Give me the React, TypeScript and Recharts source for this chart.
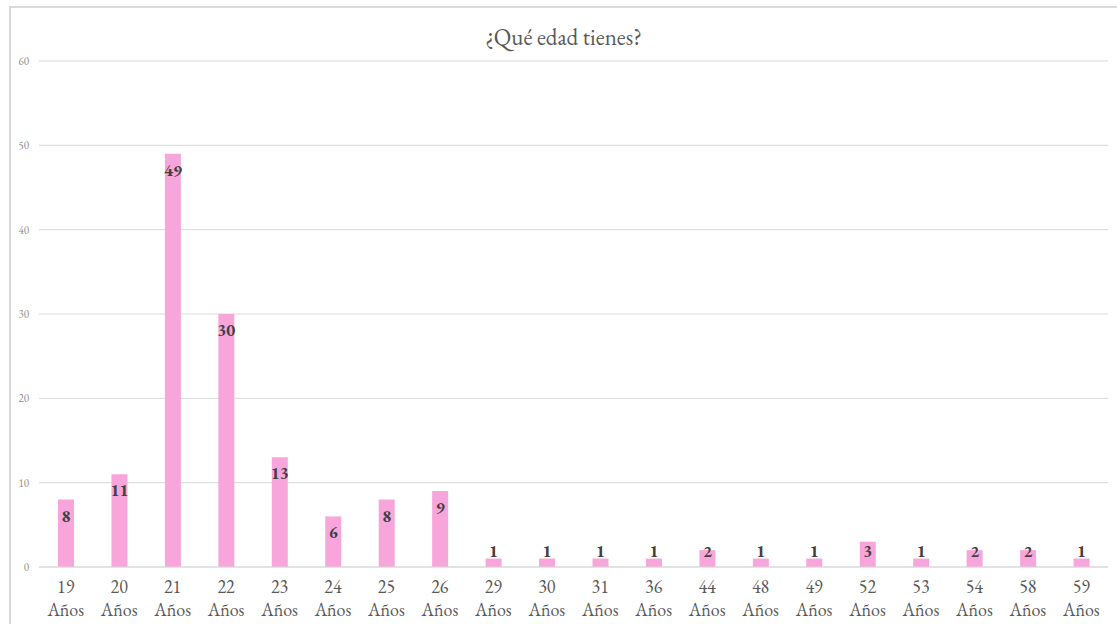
import React from 'react'
import { BarChart, Bar, XAxis, YAxis, CartesianGrid, LabelList } from 'recharts'

const ages = ['19', '20', '21', '22', '23', '24', '25', '26', '29', '30', '31', '36', '44', '48', '49', '52', '53', '54', '58', '59']
const counts = [8, 11, 49, 30, 13, 6, 8, 9, 1, 1, 1, 1, 2, 1, 1, 3, 1, 2, 2, 1]
const yTicks = [0, 10, 20, 30, 40, 50, 60]

const data = ages.map((age, i) => ({ age, count: counts[i] }))

const SERIF = '"EB Garamond", Garamond, "Liberation Serif", "DejaVu Serif", serif'
const PINK = '#F8A5DB'
const GRID = '#d9d9d9'

// two-line category label: number then "Años"
const AgeTick = (props: any) => {
  const { x, y, payload } = props
  return (
    <g fill="#595959" fontFamily={SERIF} fontSize={18} textAnchor="middle">
      <text x={x} y={y + 18}>{payload.value}</text>
      <text x={x} y={y + 41}>Años</text>
    </g>
  )
}

// value sits just inside the top of the bar, but never drops below the baseline
const ValueLabel = (props: any) => {
  const { x, y, width, height, value } = props
  const base = y + height
  const cy = Math.min(y + 16, base - 16)
  return (
    <text
      x={x + width / 2}
      y={cy}
      textAnchor="middle"
      dominantBaseline="central"
      fill="#404040"
      fontFamily={SERIF}
      fontWeight={700}
      fontSize={17}
    >
      {value}
    </text>
  )
}

export default function App() {
  return (
    <div style={{ position: 'absolute', left: 0, top: 0, width: 1117, height: 624, background: '#fff' }}>
      <div
        style={{
          position: 'absolute',
          left: 9,
          top: 6,
          width: 1120,
          height: 630,
          borderTop: `2px solid ${GRID}`,
          borderLeft: `2px solid ${GRID}`,
        }}
      />
      <div
        style={{
          position: 'absolute',
          left: 0,
          top: 22,
          width: 1127,
          textAlign: 'center',
          fontFamily: SERIF,
          fontSize: 23,
          color: '#595959',
        }}
      >
        ¿Qué edad tienes?
      </div>
      <div style={{ position: 'absolute', left: 0, top: 0 }}>
        <BarChart width={1117} height={624} data={data} margin={{ top: 61, right: 9, left: 0, bottom: 0 }}>
          <CartesianGrid vertical={false} stroke={GRID} />
          <XAxis
            dataKey="age"
            axisLine={{ stroke: GRID }}
            tickLine={false}
            interval={0}
            height={57}
            tick={<AgeTick />}
          />
          <YAxis
            domain={[0, 60]}
            ticks={yTicks}
            width={39}
            axisLine={false}
            tickLine={false}
            tickSize={4}
            tickMargin={6}
            tick={{ fontSize: 11, fill: '#8c8c8c', fontFamily: SERIF }}
          />
          <Bar dataKey="count" fill={PINK} barSize={16} isAnimationActive={false}>
            <LabelList dataKey="count" content={<ValueLabel />} />
          </Bar>
        </BarChart>
      </div>
    </div>
  )
}
